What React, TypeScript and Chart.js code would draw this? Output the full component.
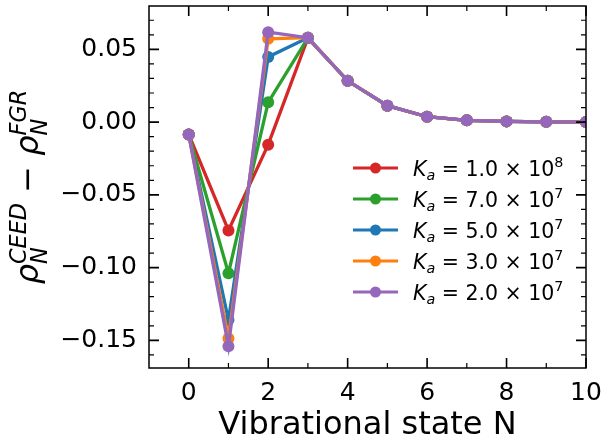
import React, { useEffect, useRef } from 'react';
import { Chart, registerables } from 'chart.js';

Chart.register(...registerables);

const states = [0, 1, 2, 3, 4, 5, 6, 7, 8, 9, 10];
const kaMantissa = ['1.0', '7.0', '5.0', '3.0', '2.0'];
const kaExponent = ['8', '7', '7', '7', '7'];
const seriesColors = ['#d62728', '#2ca02c', '#1f77b4', '#ff7f0e', '#9467bd'];

const ka1e8 = [-0.0085, -0.0745, -0.0155, 0.0578, 0.0284, 0.0113, 0.0037, 0.0012, 0.0005, 0.0002, 0.0001];
const ka7e7 = [-0.0085, -0.1038, 0.0136, 0.0579, 0.0284, 0.0113, 0.0037, 0.0012, 0.0005, 0.0002, 0.0001];
const ka5e7 = [-0.0085, -0.1360, 0.0448, 0.0580, 0.0284, 0.0113, 0.0037, 0.0012, 0.0005, 0.0002, 0.0001];
const ka3e7 = [-0.0085, -0.1488, 0.0573, 0.0581, 0.0284, 0.0113, 0.0037, 0.0012, 0.0005, 0.0002, 0.0001];
const ka2e7 = [-0.0085, -0.1540, 0.0618, 0.0580, 0.0284, 0.0113, 0.0037, 0.0012, 0.0005, 0.0002, 0.0001];
const seriesValues = [ka1e8, ka7e7, ka5e7, ka3e7, ka2e7];

const xTicks = [0, 2, 4, 6, 8, 10];
const xMinorTicks = [1, 3, 5, 7, 9];
const yTicks = [-0.15, -0.1, -0.05, 0, 0.05];
const yMinorTicks = [-0.16, -0.14, -0.13, -0.12, -0.11, -0.09, -0.08, -0.07, -0.06, -0.04, -0.03, -0.02, -0.01, 0.01, 0.02, 0.03, 0.04, 0.06, 0.07];

const FAMILY = '"DejaVu Sans"';

type Run = { t?: string; it?: boolean; sub?: string; sup?: string; subDy?: number; supDy?: number };

function fnt(size: number, italic?: boolean) {
  return `${italic ? 'italic ' : ''}${size}px ${FAMILY}`;
}

function runWidth(ctx: CanvasRenderingContext2D, r: Run, F: number) {
  if (r.t !== undefined) {
    ctx.font = fnt(F, r.it);
    return ctx.measureText(r.t).width;
  }
  ctx.font = fnt(F * 0.7, r.it);
  const a = r.sub ? ctx.measureText(r.sub).width : 0;
  const b = r.sup ? ctx.measureText(r.sup).width : 0;
  return Math.max(a, b);
}

function drawRuns(ctx: CanvasRenderingContext2D, runs: Run[], x: number, y: number, F: number) {
  let cx = x;
  ctx.textAlign = 'left';
  ctx.textBaseline = 'alphabetic';
  for (const r of runs) {
    const w = runWidth(ctx, r, F);
    if (r.t !== undefined) {
      ctx.font = fnt(F, r.it);
      ctx.fillText(r.t, cx, y);
    } else {
      ctx.font = fnt(F * 0.7, r.it);
      if (r.sub) ctx.fillText(r.sub, cx, y + (r.subDy ?? 0.25) * F);
      if (r.sup) ctx.fillText(r.sup, cx, y - (r.supDy ?? 0.4) * F);
    }
    cx += w;
  }
  return cx - x;
}

function totalWidth(ctx: CanvasRenderingContext2D, runs: Run[], F: number) {
  return runs.reduce((s, r) => s + runWidth(ctx, r, F), 0);
}

const decorPlugin = {
  id: 'decor',
  afterDraw(chart: any) {
    const ctx: CanvasRenderingContext2D = chart.ctx;
    const { left, right, top, bottom } = chart.chartArea;
    const xs = chart.scales.x;
    const ys = chart.scales.y;
    ctx.save();
    ctx.strokeStyle = '#000';
    ctx.fillStyle = '#000';
    const tick = (len: number, w: number, vals: number[], horiz: boolean) => {
      ctx.lineWidth = w;
      ctx.beginPath();
      for (const v of vals) {
        if (horiz) {
          const p = xs.getPixelForValue(v);
          ctx.moveTo(p, bottom);
          ctx.lineTo(p, bottom - len);
          ctx.moveTo(p, top);
          ctx.lineTo(p, top + len);
        } else {
          const p = ys.getPixelForValue(v);
          ctx.moveTo(left, p);
          ctx.lineTo(left + len, p);
          ctx.moveTo(right, p);
          ctx.lineTo(right - len, p);
        }
      }
      ctx.stroke();
    };
    tick(10, 1.6, xTicks, true);
    tick(5, 1.2, xMinorTicks, true);
    tick(10, 1.6, yTicks, false);
    tick(5, 1.2, yMinorTicks, false);
    ctx.lineWidth = 1.5;
    ctx.strokeRect(left, top, right - left, bottom - top);

    ctx.font = fnt(32);
    ctx.textAlign = 'center';
    ctx.textBaseline = 'alphabetic';
    ctx.fillText('Vibrational state N', (left + right) / 2, 434);

    const yRuns: Run[] = [
      { t: 'ρ', it: true },
      { sub: 'N', sup: 'CEED', it: true, subDy: 0.28, supDy: 0.38 },
      { t: ' − ' },
      { t: 'ρ', it: true },
      { sub: 'N', sup: 'FGR', it: true, subDy: 0.28, supDy: 0.38 },
    ];
    const FY = 32;
    const tw = totalWidth(ctx, yRuns, FY);
    ctx.save();
    ctx.translate(38, (top + bottom) / 2);
    ctx.rotate(-Math.PI / 2);
    drawRuns(ctx, yRuns, -tw / 2, 0, FY);
    ctx.restore();

    const FL = 20.5;
    for (let i = 0; i < seriesColors.length; i++) {
      const ry = 168 + i * 31;
      ctx.strokeStyle = seriesColors[i];
      ctx.fillStyle = seriesColors[i];
      ctx.lineWidth = 3.2;
      ctx.beginPath();
      ctx.moveTo(353, ry);
      ctx.lineTo(398, ry);
      ctx.stroke();
      ctx.beginPath();
      ctx.arc(375.5, ry, 5.5, 0, Math.PI * 2);
      ctx.fill();
      ctx.fillStyle = '#000';
      const runs: Run[] = [
        { t: 'K', it: true },
        { sub: 'a', it: true, subDy: 0.22 },
        { t: ' = ' + kaMantissa[i] + ' × 10' },
        { sup: kaExponent[i], supDy: 0.42 },
      ];
      drawRuns(ctx, runs, 413, ry + 7.5, FL);
    }
    ctx.restore();
  },
};

export default function App() {
  const ref = useRef<HTMLCanvasElement | null>(null);
  useEffect(() => {
    document.body.style.margin = '0';
    const canvas = ref.current!;
    const chart = new Chart(canvas, {
      type: 'line',
      data: {
        datasets: seriesValues.map((vals, i) => ({
          label: `Ka = ${kaMantissa[i]} × 10^${kaExponent[i]}`,
          data: states.map((n, j) => ({ x: n, y: vals[j] })),
          borderColor: seriesColors[i],
          backgroundColor: seriesColors[i],
          pointBackgroundColor: seriesColors[i],
          borderWidth: 3.3,
          pointRadius: 6,
          pointBorderWidth: 0,
          tension: 0,
          clip: 0,
          order: seriesColors.length - i,
        })),
      },
      options: {
        responsive: false,
        animation: false,
        devicePixelRatio: 1,
        layout: { padding: { left: 0, top: 3, right: 17, bottom: 0 } },
        plugins: { legend: { display: false }, tooltip: { enabled: false } },
        scales: {
          x: {
            type: 'linear',
            min: -1,
            max: 10,
            grid: { display: false, drawTicks: false },
            border: { display: false },
            ticks: {
              font: { family: 'DejaVu Sans', size: 25 },
              color: '#000',
              padding: 10,
              maxRotation: 0,
              autoSkip: false,
              callback: (v: any) => String(v),
            },
            afterBuildTicks: (s: any) => {
              s.ticks = xTicks.map((v) => ({ value: v }));
            },
            afterFit: (s: any) => {
              s.height = 77;
              s.paddingLeft = 0;
              s.paddingRight = 0;
            },
          },
          y: {
            type: 'linear',
            min: -0.169,
            max: 0.0798,
            grid: { display: false, drawTicks: false },
            border: { display: false },
            ticks: {
              font: { family: 'DejaVu Sans', size: 25 },
              color: '#000',
              padding: 12,
              autoSkip: false,
              callback: (v: any) => {
                const n = Number(v);
                const s = Math.abs(n).toFixed(2);
                return n < -1e-9 ? '\u2212' + s : s;
              },
            },
            afterBuildTicks: (s: any) => {
              s.ticks = yTicks.map((v) => ({ value: v }));
            },
            afterFit: (s: any) => {
              s.width = 149;
              s.paddingTop = 0;
              s.paddingBottom = 0;
            },
          },
        },
      },
      plugins: [decorPlugin],
    } as any);
    return () => chart.destroy();
  }, []);
  return <canvas ref={ref} width={603} height={445} style={{ display: 'block' }} />;
}
